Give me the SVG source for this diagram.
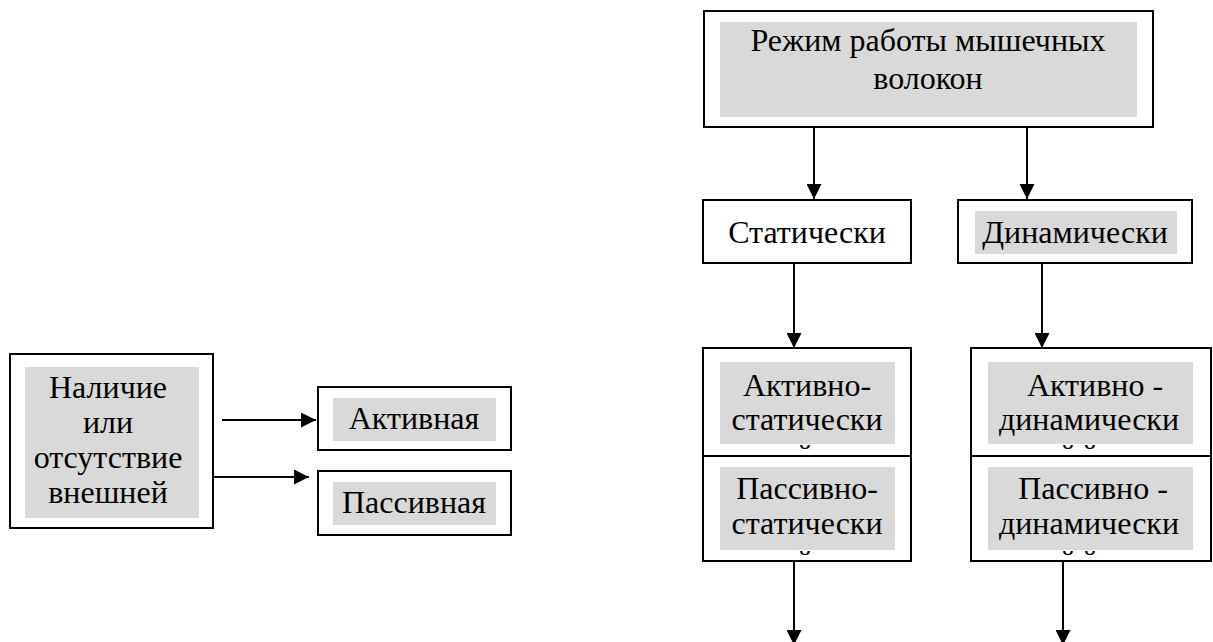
<svg xmlns="http://www.w3.org/2000/svg" width="1213" height="642" viewBox="0 0 1213 642">
<style>
.box{fill:#fff;stroke:#000;stroke-width:2}
.shade{fill:#d9d9d9;stroke:none}
.t{font-family:"Liberation Serif","Times New Roman",serif;font-size:32px;fill:#000;text-anchor:middle}
.cut{font-size:27px}
.c{stroke:#000;stroke-width:2;fill:none}
</style>
<defs>
<marker id="ah" markerUnits="userSpaceOnUse" markerWidth="15" markerHeight="15" refX="15" refY="7.5" orient="auto">
<path d="M0,0 L15,7.5 L0,15 Z" fill="#000"/>
</marker>
<clipPath id="clipA1"><rect x="700" y="444" width="520" height="6.5"/></clipPath>
<clipPath id="clipP1"><rect x="700" y="550" width="520" height="6.5"/></clipPath>
</defs>
<rect width="1213" height="642" fill="#fff"/>

<g id="mode">
<rect class="box" x="704" y="11" width="449" height="116"/>
<rect class="shade" x="720" y="22" width="417" height="95"/>
<text class="t" x="928" y="51">Режим работы мышечных</text>
<text class="t" x="928" y="89">волокон</text>
</g>

<g id="static">
<rect class="box" x="703" y="200" width="208" height="63"/>
<text class="t" x="807" y="243">Статически</text>
</g>

<g id="dynamic">
<rect class="box" x="958" y="200" width="234" height="63"/>
<rect class="shade" x="975" y="211" width="202" height="43"/>
<text class="t" x="1075" y="243">Динамически</text>
</g>

<g id="active-static">
<rect class="box" x="703" y="348" width="208" height="108"/>
<rect class="shade" x="720" y="362" width="175" height="82"/>
<text class="t" x="807" y="396">Активно-</text>
<text class="t" x="807" y="430">статически</text>
<text class="t cut" x="805" y="464" clip-path="url(#clipA1)">й</text>
</g>

<g id="passive-static">
<rect class="box" x="703" y="456" width="208" height="105"/>
<rect class="shade" x="720" y="467" width="175" height="83"/>
<text class="t" x="807" y="499">Пассивно-</text>
<text class="t" x="807" y="534">статически</text>
<text class="t cut" x="805" y="570" clip-path="url(#clipP1)">й</text>
</g>

<g id="active-dynamic">
<rect class="box" x="971" y="348" width="240" height="108"/>
<rect class="shade" x="988" y="362" width="205" height="82"/>
<text class="t" x="1095" y="396">Активно -</text>
<text class="t" x="1089" y="430">динамически</text>
<text class="t cut" x="1068 1090" y="464" clip-path="url(#clipA1)">йй</text>
</g>

<g id="passive-dynamic">
<rect class="box" x="971" y="456" width="240" height="105"/>
<rect class="shade" x="988" y="467" width="205" height="83"/>
<text class="t" x="1093" y="499">Пассивно -</text>
<text class="t" x="1089" y="534">динамически</text>
<text class="t cut" x="1068 1090" y="570" clip-path="url(#clipP1)">йй</text>
</g>

<g id="presence">
<rect class="box" x="10" y="354" width="203" height="174"/>
<rect class="shade" x="25" y="367" width="174" height="151"/>
<text class="t" x="108" y="398">Наличие</text>
<text class="t" x="108" y="433">или</text>
<text class="t" x="108" y="468">отсутствие</text>
<text class="t" x="108" y="503">внешней</text>
</g>

<g id="active">
<rect class="box" x="318" y="387" width="193" height="63"/>
<rect class="shade" x="333" y="398" width="163" height="43"/>
<text class="t" x="414" y="429">Активная</text>
</g>

<g id="passive">
<rect class="box" x="318" y="471" width="193" height="64"/>
<rect class="shade" x="333" y="482" width="163" height="43"/>
<text class="t" x="414" y="513">Пассивная</text>
</g>

<g id="connectors">
<line class="c" x1="814" y1="127" x2="814" y2="199" marker-end="url(#ah)"/>
<line class="c" x1="1027" y1="127" x2="1027" y2="199" marker-end="url(#ah)"/>
<line class="c" x1="794" y1="263" x2="794" y2="348" marker-end="url(#ah)"/>
<line class="c" x1="1042" y1="263" x2="1042" y2="348" marker-end="url(#ah)"/>
<line class="c" x1="794" y1="561" x2="794" y2="645" marker-end="url(#ah)"/>
<line class="c" x1="1063" y1="561" x2="1063" y2="645" marker-end="url(#ah)"/>
<line class="c" x1="222" y1="420" x2="316" y2="420" marker-end="url(#ah)"/>
<line class="c" x1="213" y1="477" x2="309" y2="477" marker-end="url(#ah)"/>
</g>
</svg>
